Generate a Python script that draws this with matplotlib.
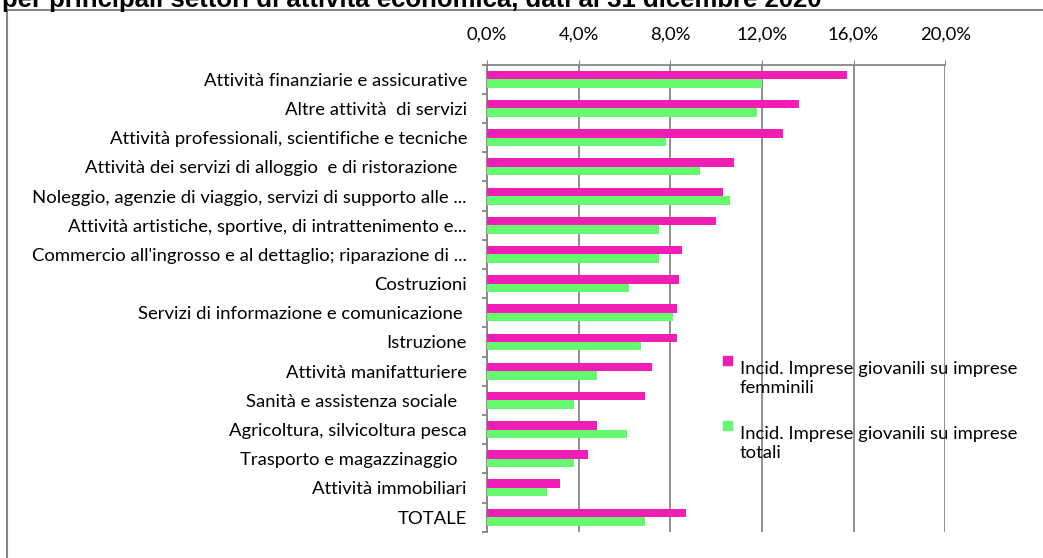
import matplotlib.pyplot as plt
import matplotlib.ticker as mticker
from matplotlib.patches import Rectangle
import numpy as np

plt.rcParams['font.family'] = ['Lato', 'DejaVu Sans']

# data (top to bottom)
settori = [
    'Attività finanziarie e assicurative',
    'Altre attività  di servizi',
    'Attività professionali, scientifiche e tecniche',
    'Attività dei servizi di alloggio  e di ristorazione  ',
    'Noleggio, agenzie di viaggio, servizi di supporto alle ...',
    'Attività artistiche, sportive, di intrattenimento e...',
    "Commercio all'ingrosso e al dettaglio; riparazione di ...",
    'Costruzioni',
    'Servizi di informazione e comunicazione ',
    'Istruzione',
    'Attività manifatturiere',
    'Sanità e assistenza sociale  ',
    'Agricoltura, silvicoltura pesca',
    'Trasporto e magazzinaggio  ',
    'Attività immobiliari',
    'TOTALE',
]
inc_femminili = [15.7, 13.6, 12.9, 10.8, 10.3, 10.0, 8.5, 8.4, 8.3, 8.3, 7.2, 6.9, 4.8, 4.4, 3.2, 8.7]
inc_totali = [12.0, 11.8, 7.8, 9.3, 10.6, 7.5, 7.5, 6.2, 8.1, 6.7, 4.8, 3.8, 6.1, 3.8, 2.6, 6.9]
xticks = [0, 4, 8, 12, 16, 20]
serie = ['Incid. Imprese giovanili su imprese\nfemminili',
         'Incid. Imprese giovanili su imprese\ntotali']

magenta = '#F01EB4'
verde = '#66F86E'
grigio = '#868686'
fs = 13.3

W, H = 1043, 558
fig = plt.figure(figsize=(W / 100, H / 100), dpi=100)
ax = fig.add_axes([487 / W, 1 - 531.7 / H, (945.3 - 487) / W, (531.7 - 64.7) / H])

n = len(settori)
y = np.arange(n)
h = 0.29
ax.barh(y - h / 2, inc_femminili, height=h, color=magenta, zorder=3)
ax.barh(y + h / 2, inc_totali, height=h, color=verde, zorder=3)

ax.set_ylim(n - 0.5, -0.5)
ax.set_xlim(0, 20)
ax.xaxis.tick_top()
ax.set_xticks(xticks)
ax.xaxis.set_major_formatter(mticker.FuncFormatter(lambda v, p: f'{v:.1f}%'.replace('.', ',')))
ax.tick_params(axis='x', length=3.6, color=grigio, pad=12.5, labelsize=fs)
ax.grid(axis='x', color=grigio, linewidth=1.3, zorder=0)

ax.set_yticks(y)
ax.set_yticklabels(settori, fontsize=fs)
ax.tick_params(axis='y', length=0, pad=14.4)
ax.set_yticks(np.arange(n + 1) - 0.5, minor=True)
ax.tick_params(axis='y', which='minor', length=3.6, color=grigio, width=1.3)

for s in ['right', 'bottom']:
    ax.spines[s].set_visible(False)
for s in ['left', 'top']:
    ax.spines[s].set_color(grigio)
    ax.spines[s].set_linewidth(1.3)

# legend, square next to the first line of each label
for col, lab, ytop in [(magenta, serie[0], 356), (verde, serie[1], 421)]:
    fig.patches.append(Rectangle((723 / W, 1 - (ytop + 9) / H), 9 / W, 9 / H,
                                 transform=fig.transFigure, color=col))
    fig.text(740 / W, 1 - (ytop + 5) / H, lab, fontsize=fs, va='top', ha='left',
             linespacing=1.25)

# chart frame (continues past the right and bottom edges)
fig.patches.append(Rectangle((6.5 / W, -0.1), 1.2, 1 - 10 / H + 0.1,
                             transform=fig.transFigure, fill=False,
                             edgecolor=grigio, linewidth=1.5))

fig.text(2 / W, 1 - 7 / H, 'per principali settori di attività economica, dati al 31 dicembre 2020',
         family='Liberation Sans', weight='bold', fontsize=18.5, va='baseline', ha='left')

fig.savefig('out.png', dpi=100)
